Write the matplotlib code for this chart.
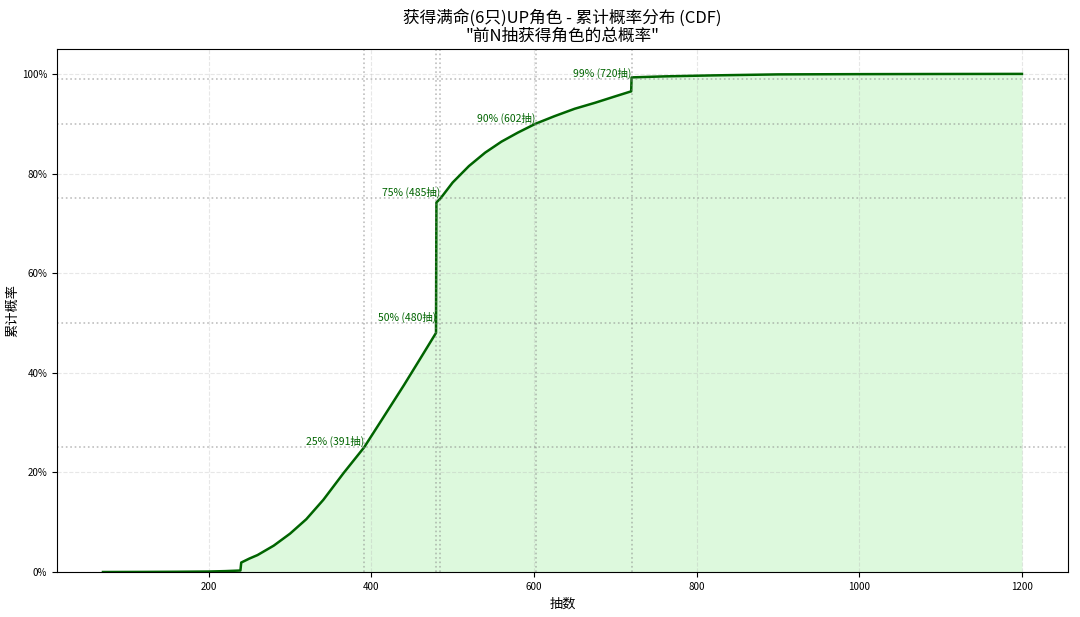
import matplotlib
matplotlib.use("Agg")
import matplotlib.pyplot as plt
from matplotlib.ticker import PercentFormatter

plt.rcParams["font.family"] = ["Noto Sans CJK SC", "DejaVu Sans"]
plt.rcParams["axes.unicode_minus"] = False

# 累计概率
draws = [70, 120, 160, 200, 220, 239, 240, 250, 260, 280, 300, 320, 341, 366, 391,
         413, 440, 460, 479.5,
         480, 485, 500, 520, 540, 560, 580, 602, 625, 650, 675, 700, 719.5,
         720, 760, 820, 900, 1000, 1100, 1200]
cdf = [0.0, 0.0002, 0.0005, 0.001, 0.0018, 0.003, 0.019, 0.027, 0.034, 0.053, 0.077,
       0.106, 0.145, 0.199, 0.25,
       0.306, 0.375, 0.428, 0.48,
       0.742, 0.75, 0.782, 0.815, 0.842, 0.864, 0.882, 0.90, 0.915, 0.930, 0.942,
       0.955, 0.965,
       0.993, 0.995, 0.997, 0.999, 0.9995, 0.9998, 1.0]

# 分位点标注
q_probs = [0.25, 0.50, 0.75, 0.90, 0.99]
q_draws = [391, 480, 485, 602, 720]

fig = plt.figure(figsize=(10.8, 6.17), dpi=100)
ax = fig.add_axes([0.0528, 0.0729, 0.936, 0.8477])

ax.plot(draws, cdf, color="darkgreen", lw=1.8)
ax.fill_between(draws, cdf, color="lightgreen", alpha=0.3, lw=0)

for p, n in zip(q_probs, q_draws):
    ax.axhline(p, color="gray", ls=":", lw=1.2, alpha=0.5)
    ax.axvline(n, color="gray", ls=":", lw=1.2, alpha=0.5)
    ax.text(n, p, f"{int(p*100)}% ({n}抽)", ha="right", va="bottom",
            color="darkgreen", fontsize=7.5)

ax.set_ylim(0, 1.05)
ax.yaxis.set_major_formatter(PercentFormatter(1.0, decimals=0))
ax.grid(True, ls="--", alpha=0.3)
ax.tick_params(labelsize=7)
ax.set_title('获得满命(6只)UP角色 - 累计概率分布 (CDF)\n"前N抽获得角色的总概率"',
             fontsize=12, linespacing=1.05)
ax.set_xlabel("抽数", fontsize=9.5)
ax.set_ylabel("累计概率", fontsize=9.5, labelpad=2)

fig.savefig("out.png", dpi=100)
